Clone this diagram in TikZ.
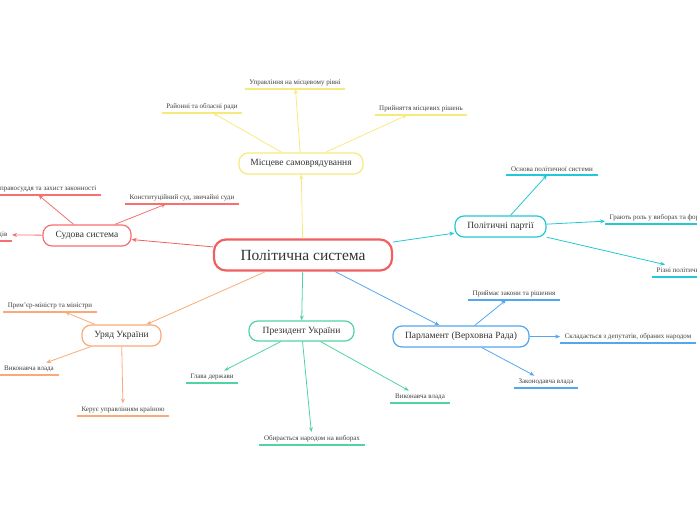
\documentclass[tikz,border=0pt]{standalone}
\usepackage{fontspec}
\setmainfont{Liberation Serif}
\usetikzlibrary{arrows.meta}

\definecolor{sysred}{RGB}{240,96,96}
\definecolor{courtred}{RGB}{246,112,112}
\definecolor{localyel}{RGB}{247,234,125}
\definecolor{partycyan}{RGB}{34,200,214}
\definecolor{govtorange}{RGB}{250,170,120}
\definecolor{presgreen}{RGB}{82,212,162}
\definecolor{parlblue}{RGB}{84,166,240}

\begin{document}
\begin{tikzpicture}[x=1pt,y=-1pt,
  topic/.style={draw=#1,fill=white,line width=1.2pt,rounded corners=9pt,
    minimum height=21pt,font=\fontsize{9.5}{11}\selectfont,text=black!80},
  leaf/.style={anchor=south,font=\fontsize{7}{8}\selectfont,text=black!75,
    inner xsep=4.5pt,inner ysep=3pt},
  link/.style={-{Stealth[length=5pt,width=4pt]},draw=#1,line width=0.8pt}]

% ---------------- frame ----------------
\clip (0,0) rectangle (697,520);

% ---------------- centre and topics ----------------
\node[draw=sysred,line width=2.2pt,rounded corners=12pt,minimum width=178pt,
  minimum height=31pt,fill=white,font=\fontsize{15.5}{18}\selectfont,
  text=black!80] (polsys) at (303,255) {Політична система};
\node[topic=localyel,minimum width=124pt] (local) at (301,163.5) {Місцеве самоврядування};
\node[topic=courtred,minimum width=88pt] (court) at (87,235.5) {Судова система};
\node[topic=partycyan,minimum width=91pt] (parties) at (500.5,226.5) {Політичні партії};
\node[topic=govtorange,minimum width=79pt] (govt) at (121.5,335.5) {Уряд України};
\node[topic=presgreen,minimum width=105pt,minimum height=20pt] (pres) at (301.5,331) {Президент України};
\node[topic=parlblue,minimum width=136pt] (parl) at (461,336.5) {Парламент (Верховна Рада)};

% ---------------- leaves ----------------
\node[leaf] (local1) at (295,89) {Управління на місцевому рівні};
\node[leaf] (local2) at (202,113) {Районні та обласні ради};
\node[leaf] (local3) at (421,115) {Прийняття місцевих рішень};

\node[leaf,anchor=south east] (court1) at (101,195) {Здійснення правосуддя та захист законності};
\node[leaf] (court2) at (182,204) {Конституційний суд, звичайні суди};
\node[leaf,anchor=south east] (court3) at (12,241) {Система судів};

\node[leaf] (parties1) at (552,175) {Основа політичної системи};
\node[leaf,anchor=south west] (parties2) at (605,224) {Грають роль у виборах та формуванні влади};
\node[leaf,anchor=south west] (parties3) at (652,277) {Різні політичні погляди};

\node[leaf] (govt1) at (50,312) {Прем’єр-міністр та міністри};
\node[leaf] (govt2) at (29,375) {Виконавча влада};
\node[leaf] (govt3) at (123,416) {Керує управлінням країною};

\node[leaf] (pres1) at (212,383) {Глава держави};
\node[leaf] (pres2) at (312,445) {Обирається народом на виборах};
\node[leaf] (pres3) at (420,403) {Виконавча влада};

\node[leaf] (parl1) at (514,300) {Приймає закони та рішення};
\node[leaf] (parl2) at (628,343) {Складається з депутатів, обраних народом};
\node[leaf] (parl3) at (546,388) {Законодавча влада};

% underlines
\foreach \n/\c in {local1/localyel,local2/localyel,local3/localyel,
    court1/courtred,court2/courtred,court3/courtred,
    parties1/partycyan,parties2/partycyan,parties3/partycyan,
    govt1/govtorange,govt2/govtorange,govt3/govtorange,
    pres1/presgreen,pres2/presgreen,pres3/presgreen,
    parl1/parlblue,parl2/parlblue,parl3/parlblue}
  \draw[\c,line width=1.2pt] (\n.south west) -- (\n.south east);

% ---------------- connectors ----------------
\foreach \a/\b/\c in {polsys/local/localyel,polsys/court/sysred,
    polsys/parties/partycyan,polsys/govt/govtorange,
    polsys/pres/presgreen,polsys/parl/parlblue}
  \draw[link=\c] (\a) -- (\b);
\foreach \a/\c in {local/localyel,court/courtred,parties/partycyan,
    govt/govtorange,pres/presgreen,parl/parlblue}
  \foreach \i in {1,2,3}
    \draw[link=\c] (\a) -- (\a\i);
\end{tikzpicture}
\end{document}
